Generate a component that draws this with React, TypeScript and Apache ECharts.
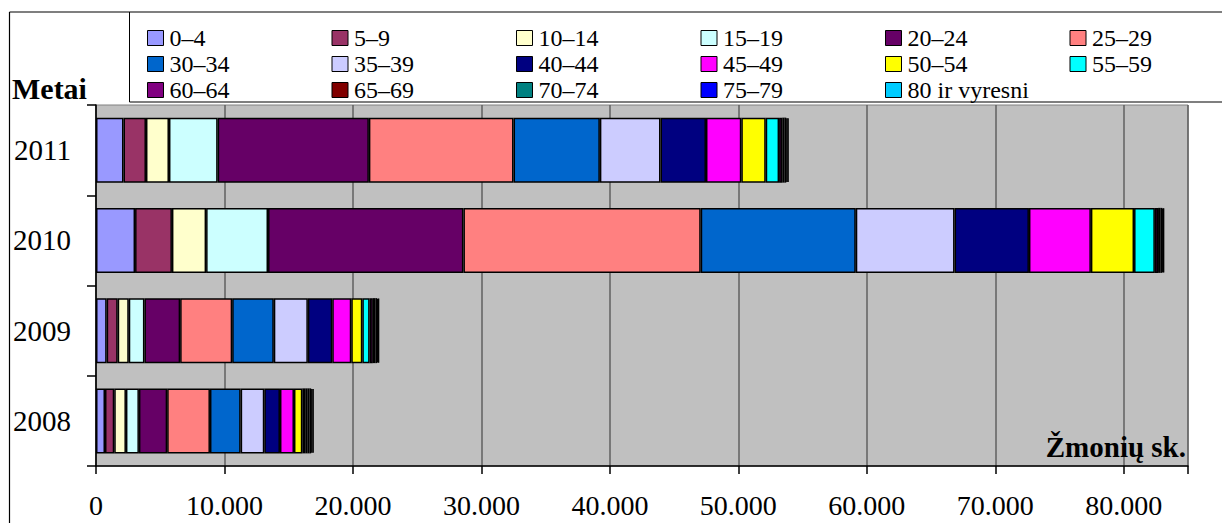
import React, { useEffect, useRef } from "react";
import * as echarts from "echarts";

const years = ["2008", "2009", "2010", "2011"];
const ageGroups = [
  "0–4", "5–9", "10–14", "15–19", "20–24", "25–29",
  "30–34", "35–39", "40–44", "45–49", "50–54", "55–59",
  "60–64", "65–69", "70–74", "75–79", "80 ir vyresni",
];
// values per age group for [2008, 2009, 2010, 2011]
const g0_4 = [700, 830, 3040, 2140];
const g5_9 = [720, 860, 2870, 1750];
const g10_14 = [910, 860, 2660, 1790];
const g15_19 = [1010, 1220, 4820, 3790];
const g20_24 = [2200, 2780, 15210, 11770];
const g25_29 = [3330, 4050, 18470, 11260];
const g30_34 = [2390, 3240, 12070, 6720];
const g35_39 = [1840, 2650, 7690, 4720];
const g40_44 = [1220, 1900, 5790, 3540];
const g45_49 = [1090, 1480, 4820, 2750];
const g50_54 = [650, 860, 3360, 1900];
const g55_59 = [230, 570, 1620, 1040];
const g60_64 = [160, 250, 250, 250];
const g65_69 = [170, 200, 200, 180];
const g70_74 = [130, 130, 130, 130];
const g75_79 = [100, 90, 80, 100];
const g80 = [100, 50, 40, 80];
const groupValues = [
  g0_4, g5_9, g10_14, g15_19, g20_24, g25_29, g30_34, g35_39, g40_44,
  g45_49, g50_54, g55_59, g60_64, g65_69, g70_74, g75_79, g80,
];
const colors = [
  "#9999FF", "#993366", "#FFFFCC", "#CCFFFF", "#660066", "#FF8080",
  "#0066CC", "#CCCCFF", "#000080", "#FF00FF", "#FFFF00", "#00FFFF",
  "#800080", "#800000", "#008080", "#0000FF", "#00CCFF",
];
const xTicks = [0, 10000, 20000, 30000, 40000, 50000, 60000, 70000, 80000];

const FONT = "Liberation Serif";

export default function App() {
  const ref = useRef<HTMLDivElement>(null);
  useEffect(() => {
    if (!ref.current) return;
    const chart = echarts.init(ref.current, undefined, { renderer: "svg" });
    const series = ageGroups.map((name, i) => ({
      name,
      type: "bar",
      stack: "total",
      barWidth: 65,
      data: groupValues[i],
      itemStyle: { color: colors[i], borderColor: "#000", borderWidth: 1.5 },
    }));
    chart.setOption({
      animation: false,
      backgroundColor: "#fff",
      textStyle: { fontFamily: FONT },
      grid: {
        left: 96,
        right: 34,
        top: 105,
        bottom: 57,
        show: true,
        backgroundColor: "#C0C0C0",
        borderColor: "#808080",
        borderWidth: 1,
      },
      legend: {
        left: 142,
        top: 20,
        width: 1110,
        itemWidth: 16,
        itemHeight: 15,
        itemGap: 0,
        icon: "rect",
        itemStyle: { borderColor: "#000", borderWidth: 1 },
        textStyle: {
          fontFamily: FONT,
          fontSize: 24,
          color: "#000",
          width: 162,
          lineHeight: 26,
          padding: [0, 0, 0, 1],
        },
        data: ageGroups,
      },
      xAxis: {
        type: "value",
        min: 0,
        max: 85000,
        interval: 10000,
        axisLine: { show: true, lineStyle: { color: "#000", width: 1.5 } },
        axisTick: { show: true, length: 8, lineStyle: { color: "#000", width: 1.5 } },
        axisLabel: {
          margin: 25,
          fontFamily: FONT,
          fontSize: 28,
          color: "#000",
          formatter: (v: number) =>
            xTicks.includes(v) ? (v === 0 ? "0" : String(v / 1000) + ".000") : "",
        },
        splitLine: { show: true, lineStyle: { color: "#606060", width: 1.5 } },
      },
      yAxis: {
        type: "category",
        data: years,
        axisLine: { show: true, lineStyle: { color: "#000", width: 1.5 } },
        axisTick: { show: true, length: 9, lineStyle: { color: "#000", width: 1.5 } },
        axisLabel: { margin: 25, fontFamily: FONT, fontSize: 29, color: "#000" },
        splitLine: { show: false },
      },
      graphic: [
        { type: "line", shape: { x1: 9.5, y1: 12, x2: 1222, y2: 12 }, style: { stroke: "#000", lineWidth: 1.2 } },
        { type: "line", shape: { x1: 9.5, y1: 12, x2: 9.5, y2: 523 }, style: { stroke: "#000", lineWidth: 1.2 } },
        { type: "line", shape: { x1: 129.5, y1: 12, x2: 129.5, y2: 102 }, style: { stroke: "#000", lineWidth: 1 } },
        { type: "line", shape: { x1: 129.5, y1: 102, x2: 1222, y2: 102 }, style: { stroke: "#000", lineWidth: 1.2 } },
        {
          type: "text",
          left: 12,
          top: 73,
          style: { text: "Metai", fontFamily: FONT, fontSize: 30, fontWeight: "bold", fill: "#000" },
        },
        {
          type: "text",
          right: 36,
          top: 432,
          style: { text: "Žmonių sk.", fontFamily: FONT, fontSize: 29, fontWeight: "bold", fill: "#000" },
          z: 10,
        },
      ],
      series,
    });
    return () => chart.dispose();
  }, []);
  return <div ref={ref} style={{ width: 1222, height: 523, position: "absolute", left: 0, top: 0 }} />;
}
